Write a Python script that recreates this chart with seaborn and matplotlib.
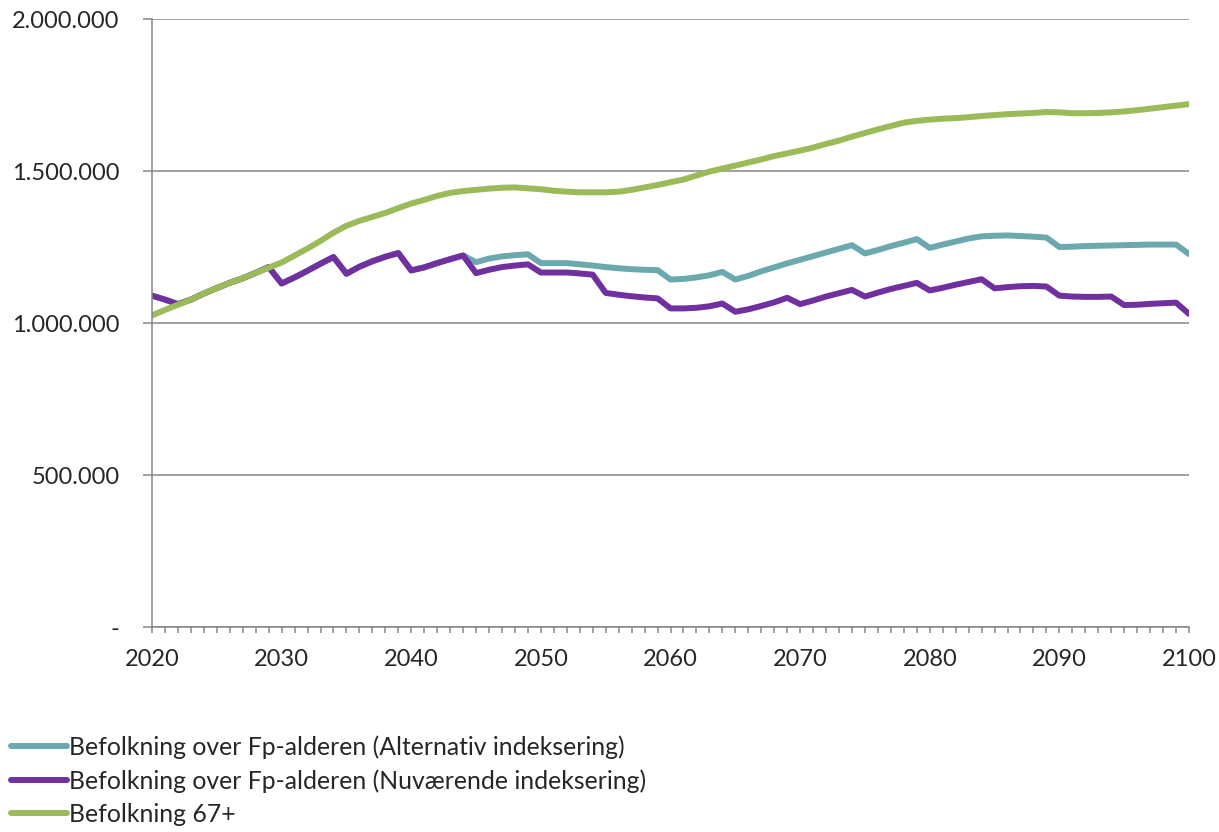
#!/usr/bin/env python3
"""
Befolkning over Fp-alderen vs. befolkning 67+, 2020-2100.
"""

import pandas as pd
import seaborn as sns
import matplotlib.pyplot as plt
from matplotlib.ticker import FuncFormatter, MultipleLocator

# ---- data (thousands of persons) ----
years = list(range(2020, 2101))

befolkning_67 = [
    1025, 1043, 1060, 1077, 1097, 1115, 1132, 1147, 1165, 1182,
    1199, 1222, 1245, 1270, 1297, 1320, 1336, 1349, 1362, 1378,
    1393, 1405, 1418, 1428, 1434, 1438, 1442, 1445, 1446, 1443,
    1440, 1435, 1432, 1430, 1430, 1430, 1432, 1438, 1446, 1454,
    1463, 1472, 1485, 1498, 1508, 1518, 1528, 1538, 1549, 1558,
    1567, 1577, 1589, 1600, 1613, 1625, 1637, 1648, 1659, 1665,
    1669, 1672, 1674, 1677, 1681, 1684, 1687, 1689, 1691, 1694,
    1693, 1690, 1690, 1691, 1693, 1696, 1700, 1705, 1710, 1715,
    1720,
]

nuvaerende = [
    1090, 1077, 1062, 1077, 1097, 1115, 1132, 1147, 1165, 1184,
    1130, 1150, 1172, 1195, 1217, 1162, 1185, 1203, 1218, 1230,
    1173, 1183, 1197, 1210, 1222, 1164, 1175, 1184, 1189, 1193,
    1166, 1166, 1166, 1163, 1159, 1099, 1093, 1088, 1084, 1081,
    1048, 1048, 1050, 1055, 1064, 1037, 1045, 1056, 1068, 1083,
    1062, 1074, 1087, 1098, 1109, 1087, 1100, 1112, 1122, 1132,
    1107, 1116, 1126, 1135, 1144, 1114, 1118, 1121, 1122, 1120,
    1090, 1087, 1086, 1086, 1087, 1059, 1060, 1063, 1065, 1067,
    1030,
]

alternativ = [
    1090, 1077, 1062, 1077, 1097, 1115, 1132, 1147, 1165, 1184,
    1130, 1150, 1172, 1195, 1217, 1162, 1185, 1203, 1218, 1230,
    1173, 1183, 1197, 1210, 1222, 1200, 1212, 1219, 1223, 1226,
    1197, 1197, 1197, 1193, 1189, 1184, 1180, 1177, 1175, 1174,
    1143, 1145, 1150, 1157, 1168, 1143, 1155, 1170, 1183, 1196,
    1208, 1220, 1232, 1244, 1256, 1229, 1240, 1253, 1264, 1276,
    1247, 1258, 1268, 1278, 1285, 1287, 1288, 1286, 1284, 1281,
    1250, 1251, 1253, 1254, 1255, 1256, 1257, 1258, 1258, 1258,
    1227,
]

series_names = [
    "Befolkning over Fp-alderen (Alternativ indeksering)",
    "Befolkning over Fp-alderen (Nuværende indeksering)",
    "Befolkning 67+",
]
series_colors = ["#6BA9AE", "#7030A0", "#9BBB59"]


def main():
    records = []
    for name, values in zip(series_names, [alternativ, nuvaerende, befolkning_67]):
        for year, value in zip(years, values):
            records.append({"Year": year, "Serie": name, "Value": value * 1000})
    df = pd.DataFrame(records)

    sns.set_theme(style="white")
    plt.rcParams["font.family"] = ["Lato", "DejaVu Sans"]

    fig = plt.figure(figsize=(12.19, 8.32), dpi=100)
    ax = fig.add_axes([152 / 1219, 1 - 627 / 832, 1037 / 1219, 608 / 832])

    sns.lineplot(
        data=df,
        x="Year",
        y="Value",
        hue="Serie",
        hue_order=series_names,
        palette=series_colors,
        linewidth=4.3,
        ax=ax,
    )

    grey = "#868686"
    ax.set_xlim(2020, 2100)
    ax.set_ylim(0, 2_000_000)
    ax.yaxis.set_major_locator(MultipleLocator(500_000))
    ax.xaxis.set_major_locator(MultipleLocator(10))
    ax.xaxis.set_minor_locator(MultipleLocator(1))

    def fmt(v, _pos):
        if v == 0:
            return "-"
        return f"{int(v):,}".replace(",", ".")

    ax.yaxis.set_major_formatter(FuncFormatter(fmt))
    ax.grid(axis="y", color=grey, linewidth=1.1)
    ax.set_axisbelow(True)

    for side in ["top", "right"]:
        ax.spines[side].set_visible(False)
    for side in ["left", "bottom"]:
        ax.spines[side].set_color(grey)
        ax.spines[side].set_linewidth(1.1)

    tick_size = 17
    ax.tick_params(axis="y", which="major", direction="out", length=6.5,
                   width=1.1, color=grey, pad=17, labelsize=tick_size, left=True)
    ax.tick_params(axis="x", which="both", direction="out", length=4.5,
                   width=1.1, color=grey, pad=11, labelsize=tick_size, bottom=True)

    ax.set_xlabel("")
    ax.set_ylabel("")

    handles, labels = ax.get_legend_handles_labels()
    ax.get_legend().remove()
    for h in handles:
        h.set_linewidth(4.3)
    fig.legend(
        handles,
        labels,
        loc="upper left",
        bbox_to_anchor=(11 / 1219, 1 - 735 / 832),
        frameon=False,
        fontsize=17.8,
        handlelength=2.25,
        handletextpad=0.1,
        labelspacing=0.42,
        borderaxespad=0,
        borderpad=0,
    )

    fig.savefig("out.png", dpi=100)


if __name__ == "__main__":
    main()
